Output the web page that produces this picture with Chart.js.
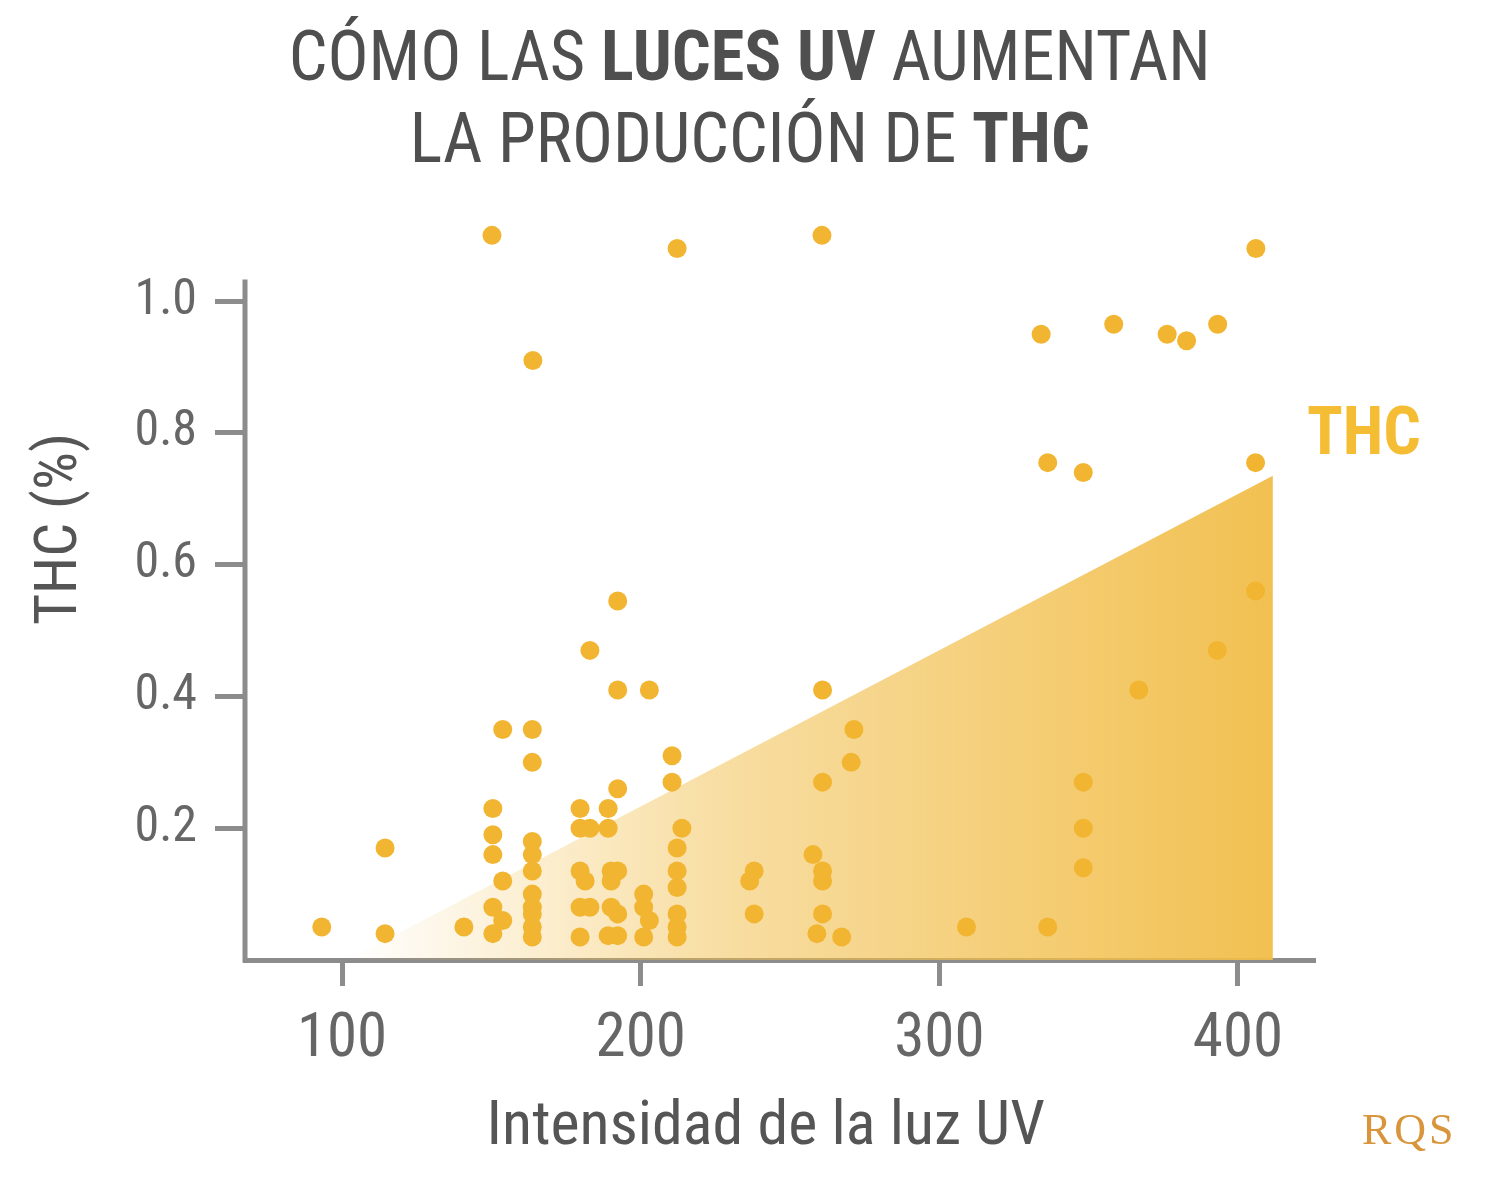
<!DOCTYPE html>
<html>
<head>
<meta charset="utf-8">
<title>Luces UV y THC</title>
<script src="https://cdn.jsdelivr.net/npm/chart.js@4.4.1/dist/chart.umd.min.js"></script>
<style>
    html, body { margin: 0; padding: 0; background: #fff; }
    #wrap { position: relative; width: 1500px; height: 1188px; overflow: hidden; }
    #uv-chart { position: absolute; left: 0; top: 0; }
    .cond { font-family: "Roboto Condensed", "Liberation Sans Narrow", "DejaVu Sans Condensed", "Roboto", sans-serif; font-stretch: condensed; }
    .line { position: absolute; left: 0; width: 1500px; text-align: center; font-size: 70px; line-height: 70px; color: #4f4f4f; white-space: nowrap; }
    .line span { display: inline-block; transform-origin: 50% 50%; }
    .line b { font-weight: 700; }
    #thc-label { position: absolute; left: 1307px; top: 399px; font-size: 66px; line-height: 66px; font-weight: 700; color: #f4bd33; white-space: nowrap; transform-origin: 0 50%; }
    #logo { position: absolute; left: 1362px; top: 1108px; font-family: "Liberation Serif", "DejaVu Serif", serif; font-size: 44px; line-height: 44px; color: #d8953b; letter-spacing: 3px; }
</style>
</head>
<body>
<div id="wrap">
    <canvas id="uv-chart" width="1500" height="1188"></canvas>
    <div class="line cond" style="top: 21px;"><span id="t1">CÓMO LAS <b>LUCES UV</b> AUMENTAN</span></div>
    <div class="line cond" style="top: 103px;"><span id="t2">LA PRODUCCIÓN DE <b>THC</b></span></div>
    <div id="thc-label" class="cond">THC</div>
    <div id="logo">RQS</div>
</div>
<script>
    // intensidad de luz UV (x) y THC % (y)
    var uvIntensity = [
        150.2, 212.2, 260.7, 406.0,
        163.9,
        334.1, 358.4, 376.3, 382.8, 393.2,
        336.3, 348.2, 405.9,
        405.9, 393.1, 366.8,
        348.2, 348.2, 348.2,
        336.3, 309.1,
        192.3, 183.0, 192.3, 202.9,
        260.9, 271.4, 270.5, 260.9,
        153.8, 163.7, 163.7,
        210.5, 210.5, 192.3,
        150.5, 179.7, 189.1,
        179.7, 183.0, 189.1, 213.8,
        114.4,
        150.5, 150.5,
        163.7, 163.7, 163.7,
        212.2, 212.2, 212.2,
        179.7, 181.4, 190.1, 192.3, 190.1,
        153.8,
        201.0, 201.0, 202.9, 201.0,
        163.7, 163.7, 163.7, 163.7, 163.7,
        179.7, 183.0, 190.1, 192.3,
        189.1, 192.3, 179.7,
        150.5, 153.8, 150.5,
        140.8, 93.2, 114.4,
        212.2, 212.2, 212.2,
        238.0, 236.5, 238.0,
        257.7, 260.9, 260.9, 260.9, 259.0, 267.3
    ];
    var thcPercent = [
        1.10, 1.08, 1.10, 1.08,
        0.91,
        0.95, 0.965, 0.95, 0.94, 0.965,
        0.755, 0.74, 0.755,
        0.56, 0.47, 0.41,
        0.27, 0.20, 0.14,
        0.05, 0.05,
        0.545, 0.47, 0.41, 0.41,
        0.41, 0.35, 0.30, 0.27,
        0.35, 0.35, 0.30,
        0.31, 0.27, 0.26,
        0.23, 0.23, 0.23,
        0.20, 0.20, 0.20, 0.20,
        0.17,
        0.19, 0.16,
        0.18, 0.16, 0.135,
        0.17, 0.135, 0.11,
        0.135, 0.12, 0.135, 0.135, 0.12,
        0.12,
        0.10, 0.08, 0.06, 0.035,
        0.10, 0.08, 0.07, 0.05, 0.035,
        0.08, 0.08, 0.08, 0.07,
        0.037, 0.037, 0.035,
        0.08, 0.06, 0.04,
        0.05, 0.05, 0.04,
        0.07, 0.05, 0.035,
        0.135, 0.12, 0.07,
        0.16, 0.135, 0.12, 0.07, 0.04, 0.035
    ];

    // tendencia (area con degradado)
    var trendX = [101.7, 411.7];
    var trendY = [0, 0.735];

    var xTicks = [100, 200, 300, 400];
    var yTicks = [0.2, 0.4, 0.6, 0.8, 1.0];
    var yAxisTop = 1.033; // hasta donde llega la linea del eje Y

    var FONT = "'Roboto Condensed', 'Liberation Sans Narrow', 'DejaVu Sans Condensed', Roboto, sans-serif";
    var AXIS = "#8c8c8c";

    function toPoints(xs, ys) {
        var out = [];
        for (var i = 0; i < xs.length; i++) {
            out.push({ x: xs[i], y: ys[i] });
        }
        return out;
    }

    function areaGradient(context) {
        var chart = context.chart;
        if (!chart.chartArea) return "rgba(241,189,72,0.5)";
        var xs = chart.scales.x;
        var g = chart.ctx.createLinearGradient(xs.getPixelForValue(trendX[0]), 0, xs.getPixelForValue(trendX[1]), 0);
        g.addColorStop(0, "rgba(241,189,72,0)");
        g.addColorStop(0.4, "rgba(241,189,72,0.5)");
        g.addColorStop(1, "rgba(241,189,72,0.95)");
        return g;
    }

    // linea del eje Y mas corta que el area (los puntos de arriba quedan fuera)
    var yAxisLine = {
        id: "yAxisLine",
        beforeDatasetsDraw: function(chart) {
            var c = chart.ctx;
            var ys = chart.scales.y;
            var left = chart.chartArea.left;
            c.save();
            c.strokeStyle = AXIS;
            c.lineWidth = 5;
            c.beginPath();
            c.moveTo(left, ys.getPixelForValue(0) + 2.5);
            c.lineTo(left, ys.getPixelForValue(yAxisTop));
            c.stroke();
            c.restore();
        }
    };

    var ctx = document.getElementById("uv-chart").getContext("2d");
    var myChart = new Chart(ctx, {
        type: "scatter",
        data: {
            datasets: [
                {
                    label: "THC",
                    data: toPoints(uvIntensity, thcPercent),
                    backgroundColor: "#f2b531",
                    borderWidth: 0,
                    pointRadius: 9.5,
                    pointHoverRadius: 9.5,
                    clip: false,
                    order: 1
                },
                {
                    type: "line",
                    label: "tendencia",
                    data: toPoints(trendX, trendY),
                    backgroundColor: areaGradient,
                    borderWidth: 0,
                    pointRadius: 0,
                    fill: "origin",
                    tension: 0,
                    order: 2
                }
            ]
        },
        plugins: [yAxisLine],
        options: {
            responsive: false,
            animation: false,
            events: [],
            layout: { padding: { top: 222, right: 185, left: 0, bottom: 0 } },
            plugins: {
                legend: { display: false },
                tooltip: { enabled: false }
            },
            scales: {
                x: {
                    type: "linear",
                    min: 67.5,
                    max: 425.8,
                    afterFit: function(s) { s.height = 228; },
                    afterBuildTicks: function(s) {
                        s.ticks = xTicks.map(function(v) { return { value: v }; });
                    },
                    grid: { drawOnChartArea: false, drawTicks: true, tickLength: 26, tickWidth: 5, tickColor: AXIS },
                    border: { display: true, color: AXIS, width: 5 },
                    ticks: {
                        color: "#666666",
                        padding: 18,
                        font: { family: FONT, size: 61 },
                        callback: function(v) { return String(v); }
                    },
                    title: {
                        display: true,
                        text: "Intensidad de la luz UV  ",
                        color: "#555555",
                        font: { family: FONT, size: 62 },
                        padding: { top: 0, bottom: 22 }
                    }
                },
                y: {
                    type: "linear",
                    min: 0,
                    max: 1.1203,
                    afterFit: function(s) { s.width = 245; },
                    afterBuildTicks: function(s) {
                        s.ticks = yTicks.map(function(v) { return { value: v }; });
                    },
                    grid: { drawOnChartArea: false, drawTicks: true, tickLength: 30, tickWidth: 5, tickColor: AXIS },
                    border: { display: false },
                    ticks: {
                        color: "#666666",
                        padding: 18,
                        font: { family: FONT, size: 50 },
                        callback: function(v) { return Number(v).toFixed(1); }
                    },
                    title: {
                        display: true,
                        text: "         THC (%)",
                        color: "#555555",
                        font: { family: FONT, size: 60 },
                        padding: { top: 25, bottom: 0 }
                    }
                }
            }
        }
    });

    // ancho de las lineas del titulo como en la imagen
    function fitWidth(id, target) {
        var el = document.getElementById(id);
        var w = el.getBoundingClientRect().width;
        if (w > 0) el.style.transform = "scaleX(" + (target / w) + ")";
    }
    fitWidth("t1", 922);
    fitWidth("t2", 680);
    fitWidth("thc-label", 114);
</script>
</body>
</html>
